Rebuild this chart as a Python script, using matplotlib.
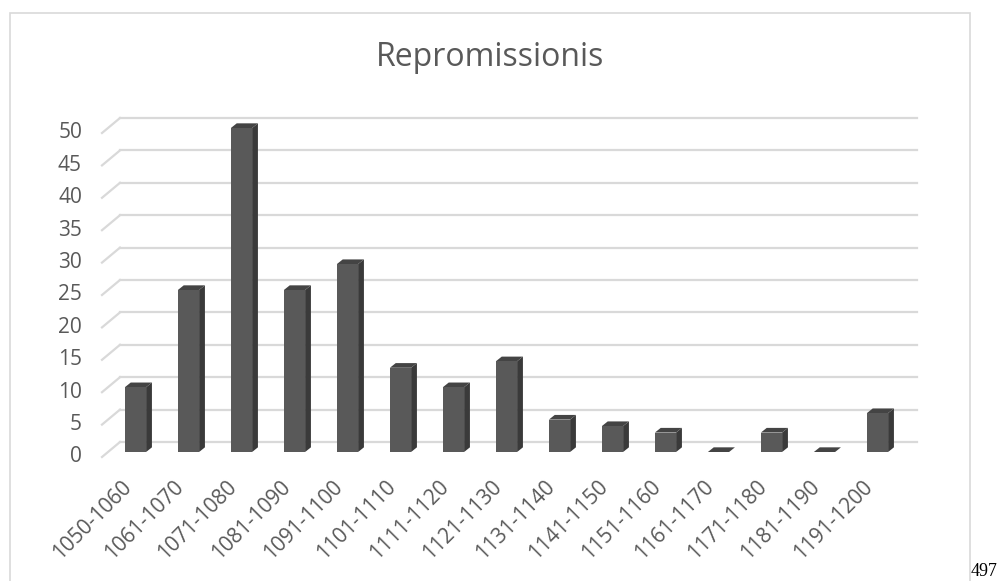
import matplotlib
matplotlib.use("Agg")
import matplotlib.pyplot as plt
from matplotlib.patches import Polygon, Rectangle
from matplotlib.transforms import offset_copy

categories = ["1050-1060", "1061-1070", "1071-1080", "1081-1090", "1091-1100",
              "1101-1110", "1111-1120", "1121-1130", "1131-1140", "1141-1150",
              "1151-1160", "1161-1170", "1171-1180", "1181-1190", "1191-1200"]
values = [10, 25, 50, 25, 29, 13, 10, 14, 5, 4, 3, 0, 3, 0, 6]
yticks = [0, 5, 10, 15, 20, 25, 30, 35, 40, 45, 50]
title = "Repromissionis"

W, H = 1001, 581
fig = plt.figure(figsize=(W / 100, H / 100), dpi=100)
FONT = ["Open Sans", "DejaVu Sans"]
TXT = "#595959"
GRID = "#d9d9d9"

# chart frame
fig.patches.append(Rectangle((10 / W, -0.01), 960 / W, 1.01 - 13 / H,
                             transform=fig.transFigure, fill=False,
                             edgecolor=GRID, linewidth=1.2))

ax = fig.add_axes([109 / W, 129 / H, 795 / W, 324 / H])
ax.set_xlim(-0.5, len(values) - 0.5)
ax.set_ylim(0, 50)
ax.axis("off")

# back wall gridlines and floor diagonals
back = offset_copy(ax.transData, fig=fig, x=11, y=10, units="dots")
front = offset_copy(ax.transData, fig=fig, x=-7, y=-5, units="dots")
for v in yticks:
    ax.plot([-0.5, len(values) - 0.46], [v, v], color=GRID, lw=1.6,
            transform=back, clip_on=False, zorder=1)
    p_back = back.transform((-0.5, v))
    p_front = front.transform((-0.5, v))
    ax.plot([p_front[0], p_back[0]], [p_front[1], p_back[1]], color=GRID, lw=1.6,
            transform=None, clip_on=False, zorder=1)
    ax.text(-0.5, v, str(v), transform=offset_copy(ax.transData, fig=fig, x=-27, y=-5, units="dots"),
            ha="right", va="center", fontsize=15, color=TXT, family=FONT)

# 3D-like bars
w = 0.4
DX = 0.11    # depth in x (data units)
DY = 0.72    # depth in y (data units)
FRONT, SIDE, TOP = "#595959", "#3a3a3a", "#444444"
xs = list(range(len(values)))
for x, v in zip(xs, values):
    side = Polygon([(x + w / 2, 0), (x + w / 2 + DX, DY), (x + w / 2 + DX, v + DY), (x + w / 2, v)],
                   closed=True, facecolor=SIDE, edgecolor="none", zorder=3, clip_on=False)
    top = Polygon([(x - w / 2, v), (x + w / 2, v), (x + w / 2 + DX, v + DY), (x - w / 2 + DX, v + DY)],
                  closed=True, facecolor=TOP, edgecolor="none", zorder=3, clip_on=False)
    ax.add_patch(side)
    ax.add_patch(top)
ax.bar(xs, values, width=w, color=FRONT, edgecolor="none", zorder=4, clip_on=False)

# category labels
lab_tr = offset_copy(ax.transData, fig=fig, x=-15, y=-24, units="dots")
for x, c in zip(xs, categories):
    ax.text(x, 0, c, transform=lab_tr, rotation=45, ha="right", va="top",
            rotation_mode="anchor", fontsize=15, color=TXT, family=FONT)

fig.text(490 / W, 1 - 57 / H, title, ha="center", va="center", fontsize=23,
         color=TXT, family=FONT)

fig.text(971 / W, 1 - 571 / H, "497", ha="left", va="center", fontsize=13,
         color="black", family=["Liberation Serif"])

fig.savefig("out.png", dpi=100)
